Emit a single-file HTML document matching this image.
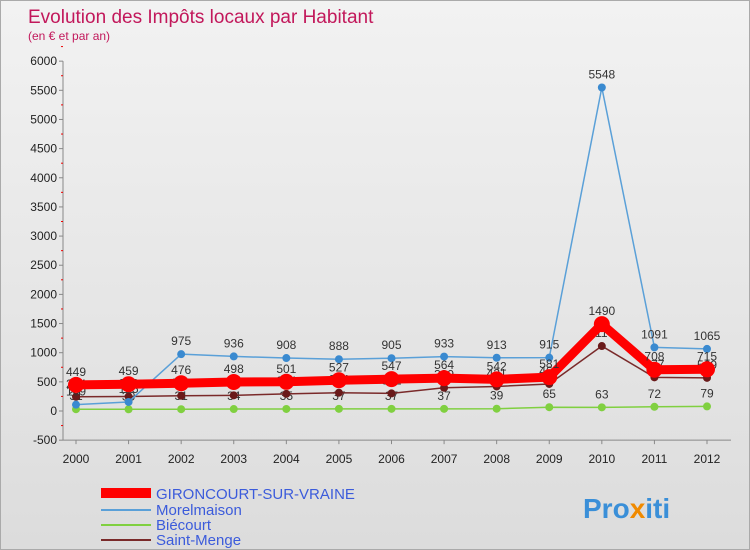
<!DOCTYPE html>
<html><head><meta charset="utf-8"><style>
body{margin:0;background:#fff}
#c{width:750px;height:550px;position:relative;font-family:"Liberation Sans",sans-serif;background:linear-gradient(#f2f2f2,#dcdcdc);border:1px solid #aaa;box-sizing:border-box;overflow:hidden}
text{font-family:"Liberation Sans",sans-serif}
</style></head><body>
<div id="c">
<svg id="s" width="750" height="550">
<text x="27" y="22" font-size="19" fill="#c2185b">Evolution des Impôts locaux par Habitant</text>
<text x="27" y="39" font-size="12" fill="#c2185b">(en € et par an)</text>
<g id="axes"></g><g id="series"></g>
<g>
<rect x="100" y="487" width="50" height="10" fill="#f00"/>
<text x="155" y="498" font-size="15" fill="#3b5bdb">GIRONCOURT-SUR-VRAINE</text>
<line x1="100" y1="509" x2="150" y2="509" stroke="#5aa0d8" stroke-width="2"/>
<text x="155" y="514" font-size="15" fill="#3b5bdb">Morelmaison</text>
<line x1="100" y1="524" x2="150" y2="524" stroke="#80d040" stroke-width="2"/>
<text x="155" y="529" font-size="15" fill="#3b5bdb">Biécourt</text>
<line x1="100" y1="539" x2="150" y2="539" stroke="#7a2a2a" stroke-width="2"/>
<text x="155" y="544" font-size="15" fill="#3b5bdb">Saint-Menge</text>
</g>
<text x="582" y="517" font-size="28" font-weight="bold" fill="#3a8fd8">Pro<tspan fill="#f08a00">x</tspan>iti</text>
</svg></div>
<script>
const years=[2000,2001,2002,2003,2004,2005,2006,2007,2008,2009,2010,2011,2012];
const yTicks=[-500,0,500,1000,1500,2000,2500,3000,3500,4000,4500,5000,5500,6000];
const gironcourt=[449,459,476,498,501,527,547,564,542,581,1490,708,715];
const morelmaison=[109,155,975,936,908,888,905,933,913,915,5548,1091,1065];
const biecourt=[31,30,31,34,35,37,37,37,39,65,63,72,79];
const saintMenge=[244,248,261,269,294,314,302,399,421,464,1114,577,569];
const NS="http://www.w3.org/2000/svg";
const X=i=>75+i*(706-75)/12;
const Y=v=>410-v*(379/6500);
function mk(tag,attrs,parent,txt){const e=document.createElementNS(NS,tag);for(const k in attrs)e.setAttribute(k,attrs[k]);if(txt!==undefined)e.textContent=txt;parent.appendChild(e);return e;}
const ax=document.getElementById('axes'),sr=document.getElementById('series');
mk('line',{x1:62,y1:Y(6000),x2:62,y2:Y(-500),stroke:'#888'},ax);
mk('line',{x1:62,y1:Y(-500),x2:730,y2:Y(-500),stroke:'#888'},ax);
yTicks.forEach(t=>{
 const l=mk('line',{x1:58,y1:Y(t),x2:62,y2:Y(t),stroke:'#888'},ax);
 
 
 const tx=mk('text',{x:56,y:Y(t)+4,'font-size':12,'text-anchor':'end',fill:'#222'},ax,String(t));
 
 
 const m=mk('line',{x1:60,y1:Y(t+250),x2:62,y2:Y(t+250),stroke:'#e00'},ax);
 
 
});
years.forEach((yr,i)=>{
 const tx=mk('text',{x:X(i),y:Y(-500)+23,'font-size':12,'text-anchor':'middle',fill:'#222'},ax,String(yr));
 
 
 mk('line',{x1:X(i),y1:Y(-500),x2:X(i),y2:Y(-500)+4,stroke:'#888'},ax);
});
function draw(vals,color,w,r,name,dotColor){
 const g=mk('g',{},sr);
 
 
 const p=mk('polyline',{points:vals.map((v,i)=>X(i)+','+Y(v)).join(' '),fill:'none',stroke:color,'stroke-width':w,'stroke-linejoin':'round'},g);
 
 
 vals.forEach((v,i)=>{
  const c=mk('circle',{cx:X(i),cy:Y(v),r:r,fill:dotColor},g);
  
  
  const t=mk('text',{x:X(i),y:Y(v)-9,'font-size':12,'text-anchor':'middle',fill:'#333'},g,String(v));
  
  
 });
}
draw(biecourt,'#80d040',1.5,4,'biecourt','#80d040');
draw(saintMenge,'#7a2a2a',1.5,4,'saint-menge','#6a1a1a');
draw(morelmaison,'#5aa0d8',1.5,4,'morelmaison','#3a8ad0');
draw(gironcourt,'#f00',9,8,'gironcourt','#f00');
</script>
</body></html>
